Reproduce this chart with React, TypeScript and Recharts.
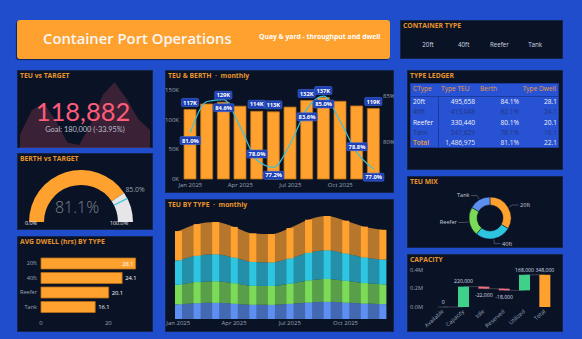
import React from "react";
import {
  AreaChart,
  Area,
  ComposedChart,
  Bar,
  Line,
  XAxis,
  YAxis,
  LabelList,
  PieChart,
  Pie,
  Cell,
  BarChart,
} from "recharts";

const FONT = "'Open Sans', 'Noto Sans', 'DejaVu Sans', sans-serif";
const KPI_FONT = "Lato, 'Open Sans', sans-serif";
const PAGE_BG = "#1F4DCB";
const PANEL_BG = "#0A1326";
const TITLE_CLR = "#E8942A";
const ORANGE = "#FFA12E";
const CYAN = "#2EC5E0";
const GREEN = "#7BDA57";
const BLUE = "#5C8FF0";
const AXIS_TXT = "#9AA3B6";

// Monthly figures
const months = [
  "Jan 2025", "Feb 2025", "Mar 2025", "Apr 2025", "May 2025", "Jun 2025",
  "Jul 2025", "Aug 2025", "Sep 2025", "Oct 2025", "Nov 2025", "Dec 2025",
];
const monthlyTEU = [117240, 126480, 129310, 122770, 114090, 113180, 121230, 132380, 137290, 131010, 123113, 118882];
const monthlyBerth = [81.0, 84.4, 84.6, 81.6, 78.0, 77.2, 79.8, 83.6, 85.0, 82.2, 78.8, 77.0];

// TEU per container type, per month
const teu20ft = [39080, 42160, 43103, 40923, 38030, 37727, 40410, 44127, 45763, 43670, 41038, 39627];
const teu40ft = [32567, 35133, 35919, 34103, 31692, 31439, 33675, 36772, 38136, 36392, 34198, 33023];
const teuReefer = [26053, 28107, 28736, 27282, 25353, 25151, 26940, 29418, 30509, 29113, 27358, 26418];
const teuTank = [19540, 21080, 21552, 20462, 19015, 18863, 20205, 22063, 22882, 21835, 20519, 19814];

// Ledger by container type
const containerTypes = ["20ft", "40ft", "Reefer", "Tank"];
const typeTEU = [495658, 413048, 330440, 247829];
const typeBerth = [84.1, 82.1, 80.1, 78.1];
const typeDwell = [28.1, 24.1, 20.1, 16.1];
const totalBerth = 81.1;
const totalDwell = 22.1;
const typeColors = [ORANGE, CYAN, GREEN, BLUE];

// KPI targets
const teuGoal = 180000;
const berthActual = 81.1;
const berthTarget = 85.0;

// Capacity bridge
const capSteps = ["Available", "Capacity", "Idle", "Reserved", "Utilized"];
const capDeltas = [0, 220000, -22000, -18000, 168000];
const capTotalName = "Total";

// Which monthly points carry a value tag
const TEU_TAGGED = new Set([0, 2, 4, 5, 7, 8, 11]);
const BERTH_TAGGED = new Set([0, 2, 4, 5, 7, 8, 10, 11]);
const BERTH_TAG_ABOVE = new Set([4, 10]);

const fmt = (v: number) => v.toLocaleString("en-US");

const teuBerthData = months.map((m, i) => ({ month: m, teu: monthlyTEU[i], berth: monthlyBerth[i] }));
const typeMonthData = months.map((m, i) => ({
  month: m,
  t20: teu20ft[i],
  t40: teu40ft[i],
  reefer: teuReefer[i],
  tank: teuTank[i],
}));
const sparkData = months.map((m, i) => ({ month: m, teu: monthlyTEU[i] }));
const dwellData = containerTypes.map((t, i) => ({ type: t, dwell: typeDwell[i] }));
const mixData = containerTypes.map((t, i) => ({ name: t, value: typeTEU[i] }));

const capData = (() => {
  let run = 0;
  const rows = capSteps.map((name, i) => {
    const from = run;
    run += capDeltas[i];
    return {
      name,
      delta: capDeltas[i],
      range: [Math.min(from, run), Math.max(from, run)],
      level: run,
      kind: i === 0 ? "start" : capDeltas[i] >= 0 ? "up" : "down",
    };
  });
  rows.push({ name: capTotalName, delta: run, range: [0, run], level: run, kind: "total" });
  return rows;
})();

const capColor = (kind: string) =>
  kind === "start" ? "#3A404C" : kind === "total" ? ORANGE : kind === "up" ? "#3FD18A" : "#F06C82";

const Tag = ({ cx, cy, text }: { cx: number; cy: number; text: string }) => {
  const w = text.length * 3.3 + 4;
  return (
    <g>
      <rect x={cx - w / 2} y={cy - 4} width={w} height={8} rx={1.2} fill="#1E40B4" stroke="#4169DC" strokeWidth={0.6} />
      <text x={cx} y={cy} dy="0.36em" textAnchor="middle" fontSize={5.8} fontWeight={700} fill="#FFFFFF" fontFamily={FONT}>
        {text}
      </text>
    </g>
  );
};

const teuTag = (p: any) => {
  if (!TEU_TAGGED.has(p.index)) return null;
  return <Tag cx={p.x + p.width / 2} cy={p.y - 7} text={`${Math.round(p.value / 1000)}K`} />;
};

const berthTag = (p: any) => {
  if (!BERTH_TAGGED.has(p.index)) return null;
  const cy = BERTH_TAG_ABOVE.has(p.index) ? p.y - 6 : p.y + 8;
  return <Tag cx={p.x} cy={cy} text={`${Number(p.value).toFixed(1)}%`} />;
};

const Title = ({ children }: { children: React.ReactNode }) => (
  <div
    style={{
      position: "absolute",
      left: 3,
      top: 1,
      fontSize: 6.8,
      fontWeight: 700,
      color: TITLE_CLR,
      fontFamily: FONT,
      lineHeight: "10px",
      whiteSpace: "nowrap",
      pointerEvents: "none",
    }}
  >
    {children}
  </div>
);

const Panel = ({ x, y, w, h, title, children }: any) => (
  <div
    style={{
      position: "absolute",
      left: x,
      top: y,
      width: w,
      height: h,
      background: PANEL_BG,
      boxShadow: "inset 0 0 0 1px #14244C",
      overflow: "hidden",
    }}
  >
    {children}
    {title && <Title>{title}</Title>}
  </div>
);

const Abs = ({ x, y, center, style, children }: any) => (
  <div
    style={{
      position: "absolute",
      left: x,
      top: y,
      whiteSpace: "nowrap",
      fontFamily: FONT,
      lineHeight: 1,
      transform: center ? "translate(-50%, -50%)" : "translate(0, -50%)",
      ...style,
    }}
  >
    {children}
  </div>
);

const mixLabel = (p: any) => {
  const RAD = Math.PI / 180;
  const cos = Math.cos(-p.midAngle * RAD);
  const sin = Math.sin(-p.midAngle * RAD);
  const r = p.outerRadius;
  const sx = p.cx + (r + 1) * cos;
  const sy = p.cy + (r + 1) * sin;
  const mx = p.cx + (r + 5) * cos;
  const my = p.cy + (r + 5) * sin;
  const right = cos >= 0;
  const ex = mx + (right ? 6 : -6);
  const name = p.payload?.name ?? p.name;
  return (
    <g>
      <polyline points={`${sx},${sy} ${mx},${my} ${ex},${my}`} fill="none" stroke="#69718A" strokeWidth={0.6} />
      <text
        x={ex + (right ? 1.5 : -1.5)}
        y={my}
        dy="0.35em"
        textAnchor={right ? "start" : "end"}
        fontSize={5.6}
        fill="#C8CDD8"
        fontFamily={FONT}
      >
        {name}
      </text>
    </g>
  );
};

const capLabel = (p: any) => {
  const row = capData[p.index];
  if (!row) return null;
  const below = row.kind === "down";
  const y = below ? p.y + p.height + 6.5 : p.y - 5;
  return (
    <text x={p.x + p.width / 2} y={y} dy="0.35em" textAnchor="middle" fontSize={5.1} fill="#D6DAE4" fontFamily={FONT}>
      {fmt(row.delta)}
    </text>
  );
};

const capShape = (p: any) => {
  const h = Math.max(Math.abs(p.height), 1);
  const y = p.height < 1 ? p.y - 0.5 : p.y;
  return <rect x={p.x} y={y} width={p.width} height={h} fill={capColor(capData[p.index]?.kind)} />;
};

const capTick = (p: any) => (
  <text
    x={p.x + 1}
    y={p.y + 3}
    textAnchor="end"
    fontSize={5.6}
    fill={AXIS_TXT}
    fontFamily={FONT}
    transform={`rotate(-42 ${p.x + 1} ${p.y + 3})`}
  >
    {p.payload.value}
  </text>
);

export default function App() {
  const current = monthlyTEU[monthlyTEU.length - 1];
  const gap = ((current - teuGoal) / teuGoal) * 100;
  const gaugeData = [
    { name: "actual", value: berthActual },
    { name: "rest", value: 100 - berthActual },
  ];
  const markerData = [
    { name: "a", value: berthTarget - 0.45 },
    { name: "m", value: 0.9 },
    { name: "b", value: 100 - berthTarget - 0.45 },
  ];
  const axisTick = { fill: AXIS_TXT, fontSize: 6, fontFamily: FONT };

  return (
    <div
      style={{
        position: "absolute",
        left: 0,
        top: 0,
        width: 582,
        height: 339,
        background: PAGE_BG,
        overflow: "hidden",
        fontFamily: FONT,
      }}
    >
      {/* Header */}
      <div
        style={{
          position: "absolute",
          left: 17,
          top: 20,
          width: 373,
          height: 39,
          background: ORANGE,
          borderRadius: 3,
          boxShadow: "-1px 1px 1px rgba(0,0,0,0.55)",
        }}
      >
        <Abs x={26} y={18} style={{ fontSize: 14.8, fontWeight: 600, color: "#F7F7F7" }}>
          Container Port Operations
        </Abs>
        <Abs x={242} y={17} style={{ fontSize: 6.8, fontWeight: 700, color: "#FFFFFF" }}>
          Quay &amp; yard - throughput and dwell
        </Abs>
      </div>

      {/* Container type slicer */}
      <Panel x={400} y={20} w={163} h={39} title="CONTAINER TYPE">
        {containerTypes.map((t, i) => (
          <Abs key={t} x={28 + i * 35.7} y={25} center style={{ fontSize: 6.2, color: "#D2D6E0" }}>
            {t}
          </Abs>
        ))}
      </Panel>

      {/* TEU vs target */}
      <Panel x={17} y={70} w={136} h={78} title="TEU vs TARGET">
        <div style={{ position: "absolute", left: 3, top: 0 }}>
          <AreaChart width={130} height={78} data={sparkData} margin={{ top: 0, right: 0, bottom: 0, left: 0 }}>
            <XAxis dataKey="month" hide />
            <YAxis hide domain={[112000, 142000]} />
            <Area
              dataKey="teu"
              type="linear"
              stroke="none"
              fill="#FF5C7A"
              fillOpacity={0.2}
              isAnimationActive={false}
            />
          </AreaChart>
        </div>
        <Abs x={66} y={40.5} center style={{ fontSize: 25.5, lineHeight: "22px", fontFamily: KPI_FONT, color: "#FF5C7A" }}>
          {fmt(current)}
        </Abs>
        <Abs x={68} y={60} center style={{ fontSize: 7.4, fontFamily: KPI_FONT, color: "#B9BDC7" }}>
          {`Goal: ${fmt(teuGoal)} (${gap.toFixed(2)}%)`}
        </Abs>
      </Panel>

      {/* Berth vs target gauge */}
      <Panel x={17} y={153} w={136} h={77} title="BERTH vs TARGET">
        <div style={{ position: "absolute", left: 0, top: 0 }}>
          <PieChart width={136} height={77}>
            <Pie
              data={gaugeData}
              dataKey="value"
              cx={59}
              cy={64}
              innerRadius={37}
              outerRadius={52}
              startAngle={180}
              endAngle={0}
              stroke="none"
              isAnimationActive={false}
            >
              <Cell fill={ORANGE} />
              <Cell fill="#E6E6E8" />
            </Pie>
            <Pie
              data={markerData}
              dataKey="value"
              cx={59}
              cy={64}
              innerRadius={37}
              outerRadius={52}
              startAngle={180}
              endAngle={0}
              stroke="none"
              isAnimationActive={false}
            >
              <Cell fill="transparent" />
              <Cell fill="#3CC8E2" />
              <Cell fill="transparent" />
            </Pie>
          </PieChart>
        </div>
        <Abs x={60} y={54} center style={{ fontSize: 16, fontWeight: 300, color: "#7E838E" }}>
          {`${berthActual.toFixed(1)}%`}
        </Abs>
        <Abs x={118} y={37} center style={{ fontSize: 6.8, color: "#9CA1AC" }}>
          {`${berthTarget.toFixed(1)}%`}
        </Abs>
        <Abs x={14} y={70.5} center style={{ fontSize: 5.4, color: "#E8EAF0" }}>
          0.0%
        </Abs>
        <Abs x={102} y={70.5} center style={{ fontSize: 5.4, color: "#E8EAF0" }}>
          100.0%
        </Abs>
      </Panel>

      {/* Average dwell by type */}
      <Panel x={17} y={236} w={136} h={96} title="AVG DWELL (hrs) BY TYPE">
        <div style={{ position: "absolute", left: 0, top: 0 }}>
          <BarChart
            width={136}
            height={96}
            data={dwellData}
            layout="vertical"
            margin={{ top: 20, right: 11, bottom: 0, left: 0 }}
          >
            <XAxis
              type="number"
              domain={[0, 30]}
              ticks={[0, 20]}
              height={18}
              tick={axisTick}
              tickSize={0}
              tickMargin={7}
              axisLine={false}
              tickLine={false}
            />
            <YAxis
              type="category"
              dataKey="type"
              width={24}
              tick={{ ...axisTick, fontSize: 5.6 }}
              tickSize={0}
              tickMargin={4}
              axisLine={false}
              tickLine={false}
            />
            <Bar dataKey="dwell" fill={ORANGE} stroke="#B86E18" strokeWidth={0.8} barSize={11} isAnimationActive={false}>
              <LabelList
                dataKey="dwell"
                content={(p: any) => {
                  const inside = p.x + p.width + 16 > 125;
                  return (
                    <text
                      x={inside ? p.x + p.width - 2 : p.x + p.width + 3}
                      y={p.y + p.height / 2}
                      dy="0.35em"
                      textAnchor={inside ? "end" : "start"}
                      fontSize={5.8}
                      fill="#FFFFFF"
                      fontFamily={FONT}
                    >
                      {Number(p.value).toFixed(1)}
                    </text>
                  );
                }}
              />
            </Bar>
          </BarChart>
        </div>
      </Panel>

      {/* TEU & berth monthly */}
      <Panel x={165} y={70} w={229} h={123} title={"TEU & BERTH \u00a0·\u00a0 monthly"}>
        <div style={{ position: "absolute", left: 0, top: 0 }}>
          <ComposedChart width={229} height={123} data={teuBerthData} margin={{ top: 20, right: 0, bottom: 2, left: 0 }}>
            <XAxis
              dataKey="month"
              interval={2}
              height={12}
              tick={axisTick}
              tickSize={0}
              tickMargin={4}
              axisLine={false}
              tickLine={false}
            />
            <YAxis
              yAxisId="l"
              domain={[0, 150000]}
              ticks={[0, 50000, 100000, 150000]}
              tickFormatter={(v: number) => `${v / 1000}K`}
              width={17}
              tick={axisTick}
              tickSize={0}
              tickMargin={3}
              axisLine={false}
              tickLine={false}
            />
            <YAxis
              yAxisId="r"
              orientation="right"
              domain={[75.92, 85.66]}
              ticks={[80, 85]}
              tickFormatter={(v: number) => `${v}%`}
              width={12}
              tick={axisTick}
              tickSize={0}
              tickMargin={1}
              axisLine={false}
              tickLine={false}
            />
            <Bar yAxisId="l" dataKey="teu" fill={ORANGE} stroke="#B86E18" strokeWidth={0.8} barSize={12} isAnimationActive={false}>
              <LabelList dataKey="teu" content={teuTag} />
            </Bar>
            <Line
              yAxisId="r"
              dataKey="berth"
              type="monotone"
              stroke="#39C3D9"
              strokeWidth={1.2}
              dot={false}
              isAnimationActive={false}
            >
              <LabelList dataKey="berth" content={berthTag} />
            </Line>
          </ComposedChart>
        </div>
      </Panel>

      {/* TEU by type ribbon */}
      <Panel x={165} y={199} w={229} h={133} title={"TEU BY TYPE \u00a0·\u00a0 monthly"}>
        <div style={{ position: "absolute", left: 0, top: 0 }}>
          <ComposedChart width={229} height={133} data={typeMonthData} margin={{ top: 15, right: 2, bottom: 1, left: 4 }}>
            <XAxis
              dataKey="month"
              interval={2}
              height={12}
              tick={axisTick}
              tickSize={0}
              tickMargin={2}
              axisLine={false}
              tickLine={false}
            />
            <YAxis hide domain={[0, 140000]} />
            <Area stackId="ribbon" dataKey="tank" type="monotone" stroke="none" fill={BLUE} fillOpacity={0.7} isAnimationActive={false} />
            <Area stackId="ribbon" dataKey="reefer" type="monotone" stroke="none" fill={GREEN} fillOpacity={0.7} isAnimationActive={false} />
            <Area stackId="ribbon" dataKey="t40" type="monotone" stroke="none" fill={CYAN} fillOpacity={0.7} isAnimationActive={false} />
            <Area stackId="ribbon" dataKey="t20" type="monotone" stroke="none" fill={ORANGE} fillOpacity={0.7} isAnimationActive={false} />
            <Bar stackId="cols" dataKey="tank" fill={BLUE} barSize={7} isAnimationActive={false} />
            <Bar stackId="cols" dataKey="reefer" fill={GREEN} barSize={7} isAnimationActive={false} />
            <Bar stackId="cols" dataKey="t40" fill={CYAN} barSize={7} isAnimationActive={false} />
            <Bar stackId="cols" dataKey="t20" fill={ORANGE} barSize={7} isAnimationActive={false} />
          </ComposedChart>
        </div>
      </Panel>

      {/* Type ledger */}
      <Panel x={407} y={70} w={156} h={100} title="TYPE LEDGER">
        <div
          style={{
            position: "absolute",
            left: 3,
            top: 13,
            width: 149,
            height: 65,
            background: "#2852D4",
            boxShadow: "inset 0 0 0 1px #1B3B9E",
            fontFamily: FONT,
            fontSize: 6.6,
          }}
        >
          <div style={{ position: "absolute", left: 0, top: 12.5, width: 149, height: 1, background: "#1B3B9E" }} />
          <div style={{ position: "absolute", left: 28, top: 13, width: 1, height: 52, background: "#1B3B9E" }} />
          {[
            ["CType", 3],
            ["Type TEU", 31],
            ["Berth", 70],
          ].map(([t, x]) => (
            <Abs key={t as string} x={x} y={6} style={{ color: "#E89A38" }}>
              {t}
            </Abs>
          ))}
          <Abs x={146} y={6} style={{ color: "#E89A38", transform: "translate(-100%, -50%)" }}>
            Type Dwell
          </Abs>
          {containerTypes.map((t, i) => {
            const y = 19 + i * 10.3;
            const c = i % 2 === 0 ? "#F2F4FA" : "#22367F";
            const r = { color: c, transform: "translate(-100%, -50%)" };
            return (
              <React.Fragment key={t}>
                <Abs x={3} y={y} style={{ color: c }}>
                  {t}
                </Abs>
                <Abs x={65} y={y} style={r}>
                  {fmt(typeTEU[i])}
                </Abs>
                <Abs x={109} y={y} style={r}>
                  {`${typeBerth[i].toFixed(1)}%`}
                </Abs>
                <Abs x={147} y={y} style={r}>
                  {typeDwell[i].toFixed(1)}
                </Abs>
              </React.Fragment>
            );
          })}
          <Abs x={3} y={60} style={{ color: "#F0A030", fontWeight: 600 }}>
            Total
          </Abs>
          <Abs x={65} y={60} style={{ color: "#E6E9F2", transform: "translate(-100%, -50%)" }}>
            {fmt(typeTEU.reduce((a, b) => a + b, 0))}
          </Abs>
          <Abs x={109} y={60} style={{ color: "#E6E9F2", transform: "translate(-100%, -50%)" }}>
            {`${totalBerth.toFixed(1)}%`}
          </Abs>
          <Abs x={147} y={60} style={{ color: "#E6E9F2", transform: "translate(-100%, -50%)" }}>
            {totalDwell.toFixed(1)}
          </Abs>
        </div>
      </Panel>

      {/* TEU mix donut */}
      <Panel x={407} y={176} w={156} h={72} title="TEU MIX">
        <div style={{ position: "absolute", left: 0, top: 0 }}>
          <PieChart width={156} height={72}>
            <Pie
              data={mixData}
              dataKey="value"
              nameKey="name"
              cx={78}
              cy={37}
              innerRadius={13}
              outerRadius={21}
              startAngle={90}
              endAngle={-270}
              stroke={PANEL_BG}
              strokeWidth={0.5}
              label={mixLabel}
              labelLine={false}
              isAnimationActive={false}
            >
              {mixData.map((d, i) => (
                <Cell key={d.name} fill={typeColors[i]} />
              ))}
            </Pie>
          </PieChart>
        </div>
      </Panel>

      {/* Capacity waterfall */}
      <Panel x={407} y={254} w={156} h={78} title="CAPACITY">
        <div style={{ position: "absolute", left: 0, top: 0 }}>
          <ComposedChart width={156} height={78} data={capData} margin={{ top: 16, right: 8, bottom: 0, left: 0 }} barCategoryGap="23%">
            <XAxis
              dataKey="name"
              interval={0}
              height={25}
              tick={capTick}
              tickSize={0}
              axisLine={false}
              tickLine={false}
            />
            <YAxis
              domain={[0, 400000]}
              ticks={[0, 200000, 400000]}
              tickFormatter={(v: number) => `${(v / 1000000).toFixed(1)}M`}
              width={26}
              tick={{ ...axisTick, fontSize: 5.6 }}
              tickSize={0}
              tickMargin={10}
              axisLine={false}
              tickLine={false}
            />
            <Line
              dataKey="level"
              type="stepAfter"
              stroke="#3A404C"
              strokeWidth={1}
              dot={false}
              zIndex={250}
              isAnimationActive={false}
            />
            <Bar dataKey="range" shape={capShape} isAnimationActive={false}>
              <LabelList dataKey="range" content={capLabel} />
            </Bar>
          </ComposedChart>
        </div>
      </Panel>
    </div>
  );
}
